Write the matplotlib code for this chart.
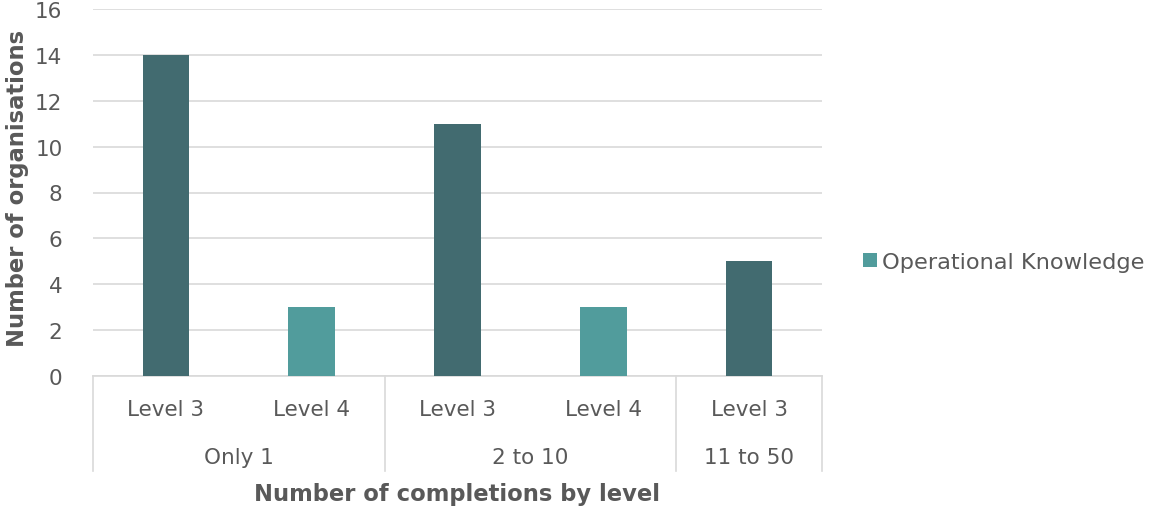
import matplotlib
matplotlib.use("Agg")
import matplotlib.pyplot as plt
from matplotlib.patches import Patch
from matplotlib.transforms import blended_transform_factory

# Data
levels = ["Level 3", "Level 4", "Level 3", "Level 4", "Level 3"]
groups = ["Only 1", "2 to 10", "11 to 50"]
group_sizes = [2, 2, 1]
values = [14, 3, 11, 3, 5]
series_name = "Operational Knowledge"
y_ticks = [0, 2, 4, 6, 8, 10, 12, 14, 16]

DARK = "#426b70"
LIGHT = "#519c9c"
TEXT = "#595959"
GRID = "#d9d9d9"

plt.rcParams["font.family"] = ["DejaVu Sans"]

fig = plt.figure(figsize=(11.49, 5.10), dpi=100)
ax = fig.add_axes([93 / 1149, 1 - 377 / 510, (822 - 93) / 1149, (377 - 10) / 510])

x = list(range(len(values)))
colors = [DARK if lv == "Level 3" else LIGHT for lv in levels]
ax.bar(x, values, width=0.32, color=colors, zorder=3)

ax.set_xlim(-0.5, len(values) - 0.5)
ax.set_ylim(y_ticks[0], y_ticks[-1])
ax.set_yticks(y_ticks)
ax.set_yticklabels([str(v) for v in y_ticks], fontsize=15.5, color=TEXT)
ax.tick_params(axis="y", length=0, pad=22)
ax.set_xticks([])
ax.grid(axis="y", color=GRID, linewidth=1.2, zorder=0)
for s in ["top", "right", "left"]:
    ax.spines[s].set_visible(False)
ax.spines["bottom"].set_color(GRID)
ax.spines["bottom"].set_linewidth(1.2)

trans = blended_transform_factory(ax.transData, ax.transAxes)
ax_h = (377 - 10)

def ay(py):
    # pixel row below the axis bottom -> axes fraction
    return (377 - py) / ax_h

# Level labels
for xi, lv in zip(x, levels):
    ax.text(xi, ay(410), lv, transform=trans, ha="center", va="center",
            fontsize=15.5, color=TEXT)

# Group labels and separators
start = -0.5
bounds = [start]
for g, n in zip(groups, group_sizes):
    center = start + n / 2
    ax.text(center, ay(458), g, transform=trans, ha="center", va="center",
            fontsize=15.5, color=TEXT)
    start += n
    bounds.append(start)
for b in bounds:
    ax.plot([b, b], [0, ay(472)], transform=trans, color=GRID,
            linewidth=1.2, clip_on=False)

fig.text((93 + 822) / 2 / 1149, 1 - 495 / 510, "Number of completions by level",
         ha="center", va="center", fontsize=16.3, fontweight="bold", color=TEXT)
fig.text(18 / 1149, 1 - 188 / 510, "Number of organisations", rotation=90,
         ha="center", va="center", fontsize=16.3, fontweight="bold", color=TEXT)

handles = [Patch(facecolor=LIGHT, edgecolor="none")]
fig.legend(handles, [series_name], loc="center left",
           bbox_to_anchor=(843 / 1149, 1 - 263 / 510), frameon=False,
           fontsize=16.2, handlelength=0.6, handleheight=0.6, handletextpad=0.25,
           labelcolor=TEXT)

fig.savefig("out.png", dpi=100)
